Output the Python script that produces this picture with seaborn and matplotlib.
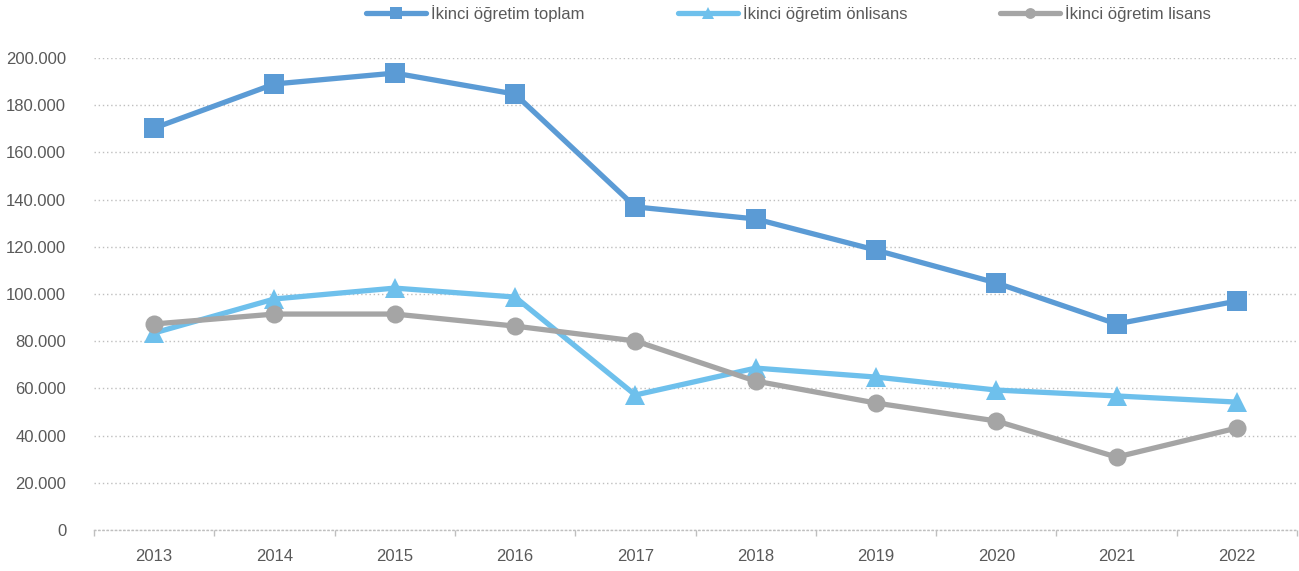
"""Ikinci ogretim ogrenci sayilari, 2013-2022."""

import matplotlib
matplotlib.use("Agg")
import matplotlib.pyplot as plt
from matplotlib.ticker import FuncFormatter, FixedLocator
import pandas as pd
import seaborn as sns

years = ["2013", "2014", "2015", "2016", "2017", "2018", "2019", "2020", "2021", "2022"]
toplam = [170300, 189000, 193600, 184700, 136900, 131800, 118600, 104700, 87300, 97000]
onlisans = [83500, 97900, 102500, 98700, 57200, 68600, 64800, 59300, 56800, 54200]
lisans = [87300, 91500, 91500, 86400, 80100, 63100, 53800, 46200, 30900, 43200]
series_names = ["İkinci öğretim toplam", "İkinci öğretim önlisans", "İkinci öğretim lisans"]

sns.set_theme(style="white")
plt.rcParams["font.family"] = ["Liberation Sans Narrow", "Liberation Sans", "DejaVu Sans"]

text_color = "#595959"
colors = ["#5B9BD5", "#6EC0EC", "#A5A5A5"]
markers = ["s", "^", "o"]
msizes = [14, 14, 13]

df = pd.DataFrame({
    "x": list(range(len(years))) * 3,
    "value": toplam + onlisans + lisans,
    "series": [n for n in series_names for _ in years],
})

fig = plt.figure(figsize=(12.99, 5.71), dpi=100)
ax = fig.add_axes([94 / 1299, 41 / 571, 1203 / 1299, 472 / 571])

for name, c, m, ms in zip(series_names, colors, markers, msizes):
    sub = df[df["series"] == name]
    sns.lineplot(data=sub, x="x", y="value", ax=ax, color=c, linewidth=3.8,
                 marker=m, markersize=ms, markeredgewidth=0, label=name)

ax.set_xlim(-0.5, len(years) - 0.5)
ax.set_ylim(0, 200000)
ax.set_yticks(range(0, 200001, 20000))
ax.yaxis.set_major_formatter(FuncFormatter(lambda v, p: f"{int(v):,}".replace(",", ".")))
ax.set_xticks(range(len(years)))
ax.set_xticklabels(years)
ax.xaxis.set_minor_locator(FixedLocator([i - 0.5 for i in range(len(years) + 1)]))
ax.set_xlabel("")
ax.set_ylabel("")

# dotted gridlines, Excel style
ax.grid(axis="y", color="#BFBFBF", linestyle=(0, (1, 2)), linewidth=1.0)
ax.set_axisbelow(True)
for s in ["top", "right", "left"]:
    ax.spines[s].set_visible(False)
ax.spines["bottom"].set_color("#BFBFBF")
ax.spines["bottom"].set_linestyle((0, (1, 2)))
ax.spines["bottom"].set_linewidth(1.0)

ax.tick_params(axis="x", which="major", bottom=False, labelsize=12, labelcolor=text_color, pad=8)
ax.tick_params(axis="x", which="minor", bottom=True, length=4, width=1, color="#BFBFBF",
               direction="out")
ax.tick_params(axis="y", length=0, labelsize=12, labelcolor=text_color, pad=20)
for t in ax.xaxis.get_minorticklines():
    t.set_linestyle((0, (1, 1)))

handles, labels = ax.get_legend_handles_labels()
ax.get_legend().remove()
leg = fig.legend(handles, labels, loc="upper center", bbox_to_anchor=(0.607, 1.018), ncol=3,
                 frameon=False, fontsize=12, handlelength=3.6, handletextpad=0.3,
                 columnspacing=5.6, markerscale=0.6)
for t in leg.get_texts():
    t.set_color(text_color)

fig.savefig("out.png", dpi=100)
